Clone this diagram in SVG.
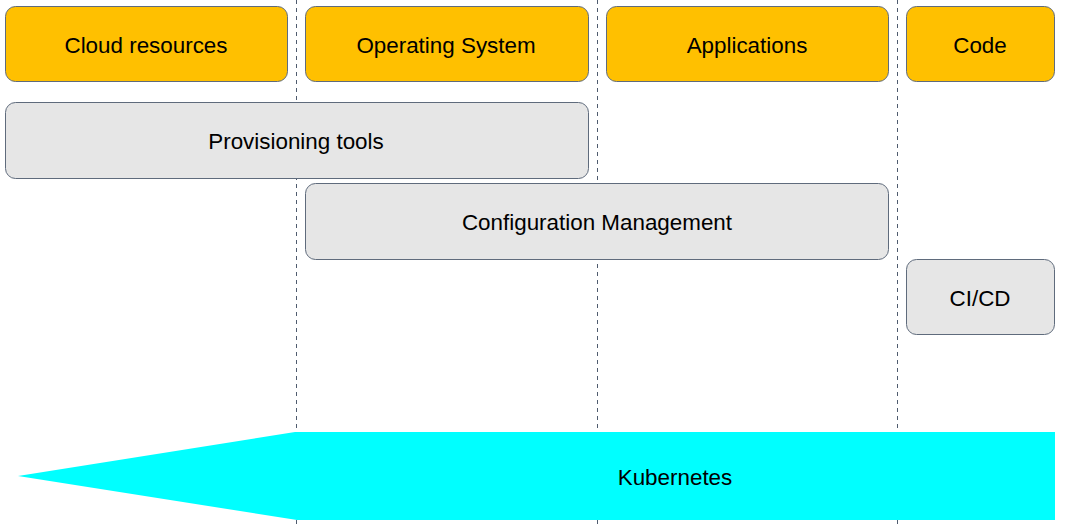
<svg xmlns="http://www.w3.org/2000/svg" width="1070" height="528" viewBox="0 0 1070 528">
<style>
.top{fill:#ffc000;stroke:#5f6b7c;stroke-width:1}
.tool{fill:#e6e6e6;stroke:#5f6b7c;stroke-width:1}
.lbl{font-family:"Liberation Sans",Arial,sans-serif;font-size:22.4px;fill:#000;text-anchor:middle;dominant-baseline:central}
.sep{stroke:#4f5b6e;stroke-width:1;stroke-dasharray:4,4;fill:none}
</style>
<rect width="1070" height="528" fill="#fff"/>
<g id="connectors">
<line class="sep" x1="296.5" y1="0" x2="296.5" y2="528"/>
<line class="sep" x1="597.5" y1="0" x2="597.5" y2="528"/>
<line class="sep" x1="897.5" y1="0" x2="897.5" y2="528"/>
</g>
<g id="cloud"><rect class="top" x="5.5" y="6.5" width="282" height="75" rx="10"/><text class="lbl" x="146" y="45">Cloud resources</text></g>
<g id="os"><rect class="top" x="305.5" y="6.5" width="283" height="75" rx="10"/><text class="lbl" x="446" y="45">Operating System</text></g>
<g id="apps"><rect class="top" x="606.5" y="6.5" width="282" height="75" rx="10"/><text class="lbl" x="747" y="45">Applications</text></g>
<g id="code"><rect class="top" x="906.5" y="6.5" width="148" height="75" rx="10"/><text class="lbl" x="980" y="45">Code</text></g>
<g id="provisioning"><rect class="tool" x="5.5" y="102.5" width="583" height="76" rx="10"/><text class="lbl" x="296" y="141">Provisioning tools</text></g>
<g id="config"><rect class="tool" x="305.5" y="183.5" width="583" height="76" rx="10"/><text class="lbl" x="597" y="222">Configuration Management</text></g>
<g id="cicd"><rect class="tool" x="906.5" y="259.5" width="148" height="75" rx="10"/><text class="lbl" x="980" y="298">CI/CD</text></g>
<g id="kubernetes"><polygon points="18,476 295,432 1055,432 1055,520 297,520" fill="#00ffff"/><text class="lbl" x="675" y="477">Kubernetes</text></g>
</svg>
